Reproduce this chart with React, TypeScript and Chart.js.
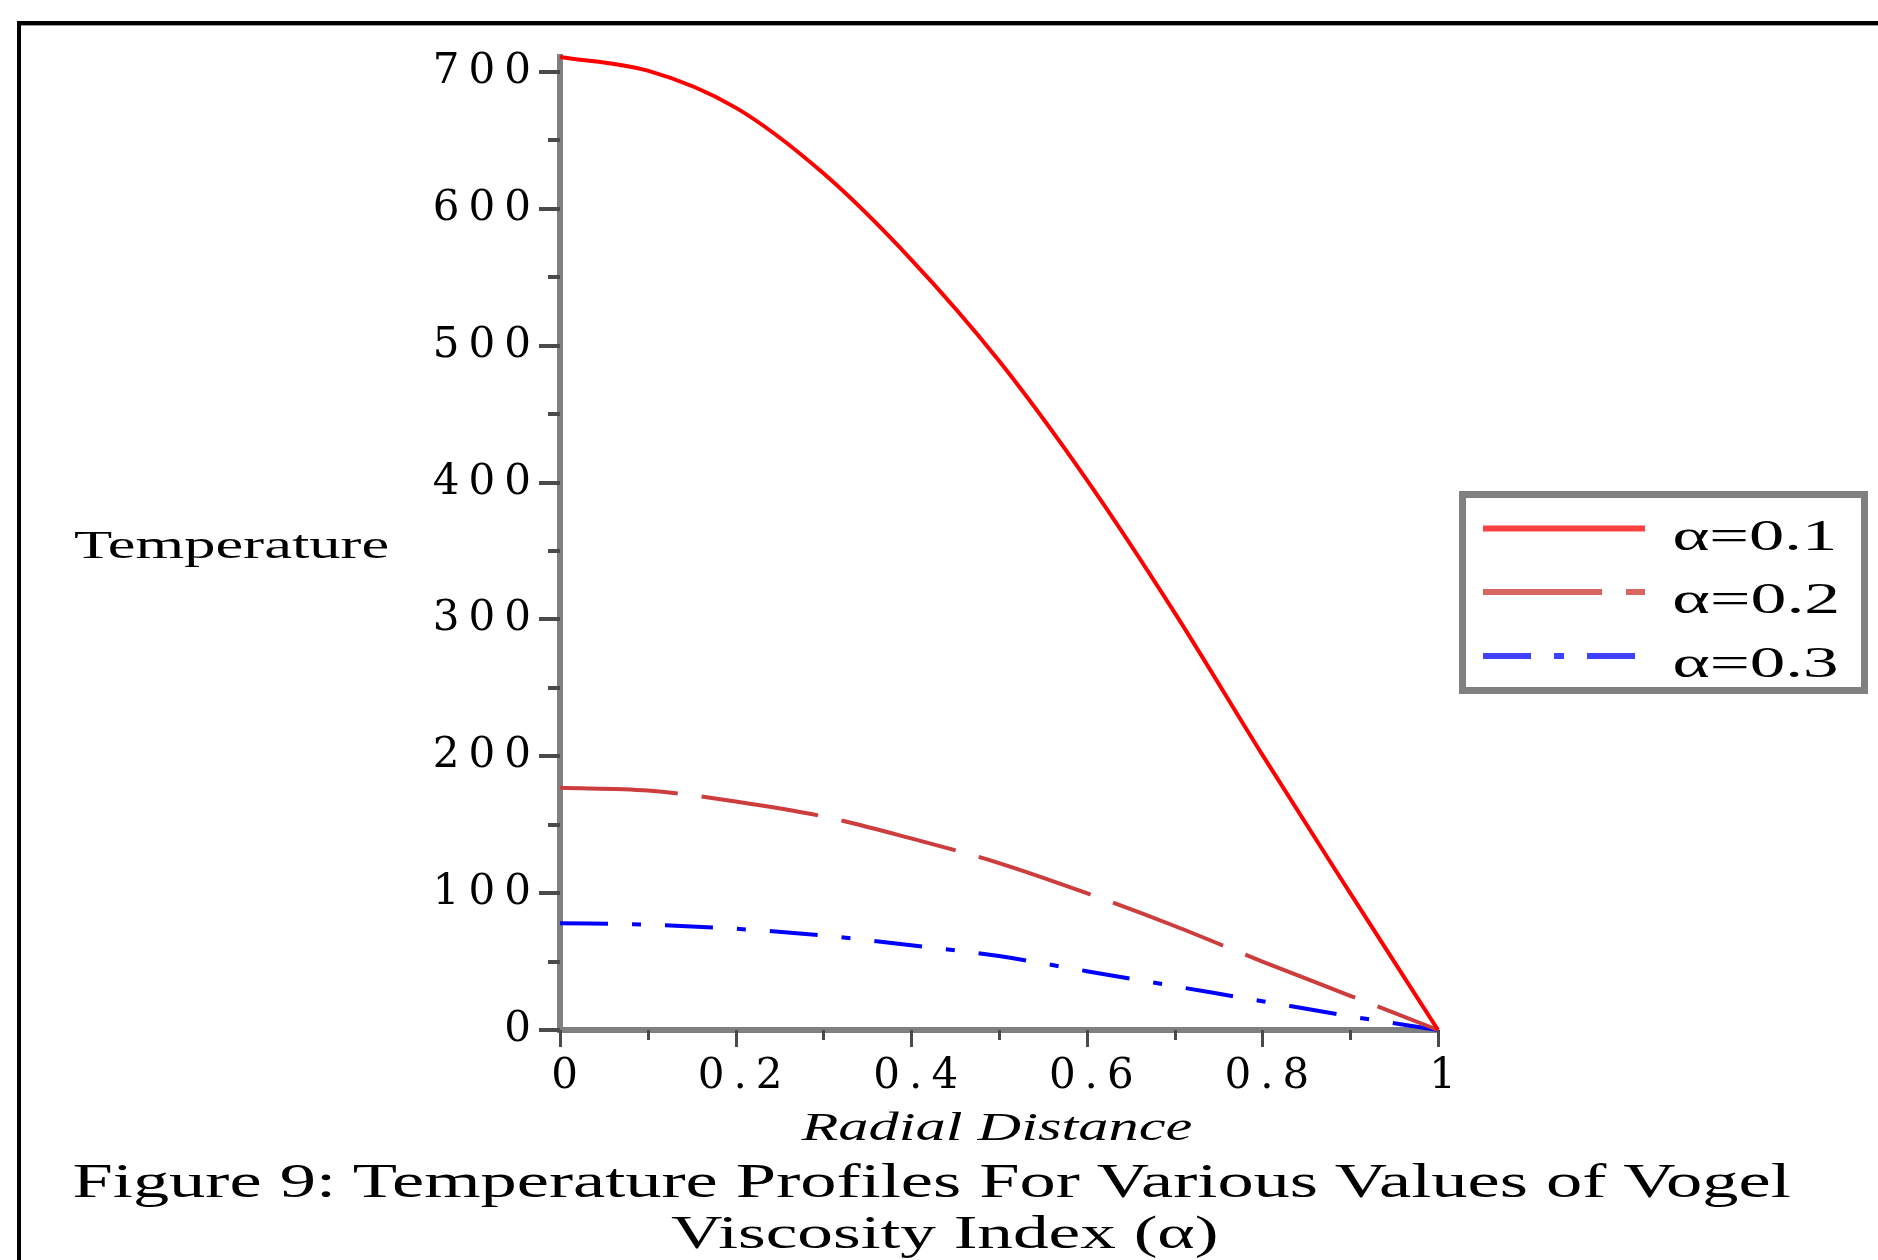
import React, { useEffect, useRef } from 'react';
import { Chart, registerables } from 'chart.js';

Chart.register(...registerables);

// ---------------- data ----------------
const radialDistance = [0, 0.1, 0.2, 0.3, 0.4, 0.5, 0.6, 0.7, 0.8, 0.9, 1];
const tempAlpha01 = [711, 701, 674, 626, 563, 489, 402, 305, 201, 100, 0];
const tempAlpha02 = [177, 175, 167, 156, 140, 122, 100, 76, 50, 25, 0];
const tempAlpha03 = [78, 77, 74, 69, 62, 54, 43, 32, 21, 10, 0];
const seriesLabels = ['α=0.1', 'α=0.2', 'α=0.3'];

const yTickLabels = [0, 100, 200, 300, 400, 500, 600, 700];
const yTickMarks = [0, 50, 100, 150, 200, 250, 300, 350, 400, 450, 500, 550, 600, 650, 700];
const xTickLabels = [0, 0.2, 0.4, 0.6, 0.8, 1];
const xTickMarks = [0, 0.1, 0.2, 0.3, 0.4, 0.5, 0.6, 0.7, 0.8, 0.9, 1];
const yMax = 711;

const axisTitleY = 'Temperature';
const axisTitleX = 'Radial Distance';
const captionLine1 = 'Figure 9: Temperature Profiles For Various Values of Vogel';
const captionLine2 = 'Viscosity Index (α)';

// ---------------- helpers ----------------
let measureCtx: CanvasRenderingContext2D | null = null;
function measureInk(text: string, font: string) {
  if (!measureCtx) measureCtx = document.createElement('canvas').getContext('2d');
  const c = measureCtx as CanvasRenderingContext2D;
  c.font = font;
  const m = c.measureText(text);
  return { left: m.actualBoundingBoxLeft, right: m.actualBoundingBoxRight };
}

function StretchText(props: {
  text: string; size: number; italic?: boolean; inkLeft: number; inkWidth: number; baseline: number;
}) {
  const { text, size, italic, inkLeft, inkWidth, baseline } = props;
  const font = `${italic ? 'italic ' : ''}${size}px "Liberation Serif"`;
  const m = measureInk(text, font);
  const natural = Math.max(1, m.left + m.right);
  const s = inkWidth / natural;
  const x0 = inkLeft + m.left * s;
  return (
    <text
      transform={`translate(${x0} ${baseline}) scale(${s} 1)`}
      fontFamily="'Liberation Serif'"
      fontSize={size}
      fontStyle={italic ? 'italic' : 'normal'}
      fill="#000"
    >
      {text}
    </text>
  );
}

const mapleTicks = {
  id: 'mapleTicks',
  beforeDraw(chart: any) {
    (chart.ctx as any).letterSpacing = '9px';
  },
  afterDraw(chart: any) {
    const ctx = chart.ctx;
    (ctx as any).letterSpacing = '0px';
    const area = chart.chartArea;
    const xs = chart.scales.x;
    const ys = chart.scales.y;
    ctx.save();
    ctx.strokeStyle = '#4a4a4a';
    ctx.lineWidth = 4;
    yTickMarks.forEach((v) => {
      const p = Math.round(ys.getPixelForValue(v));
      const major = v % 100 === 0;
      ctx.beginPath();
      ctx.moveTo(area.left - (major ? 21 : 12), p);
      ctx.lineTo(area.left, p);
      ctx.stroke();
    });
    ctx.lineWidth = 3;
    xTickMarks.forEach((v, i) => {
      const p = Math.round(xs.getPixelForValue(v)) + 0.5;
      const major = i % 2 === 0;
      ctx.beginPath();
      ctx.moveTo(p, area.bottom);
      ctx.lineTo(p, area.bottom + (major ? 17 : 10));
      ctx.stroke();
    });
    ctx.restore();
  },
};

const tickFont = { family: "'DejaVu Serif'", size: 42, lineHeight: 1.2 };

export default function App() {
  const canvasRef = useRef<HTMLCanvasElement | null>(null);

  useEffect(() => {
    if (!canvasRef.current) return;
    const toPts = (arr: number[]) => arr.map((y, i) => ({ x: radialDistance[i], y }));
    const common = { borderWidth: 4, pointRadius: 0, cubicInterpolationMode: 'monotone', clip: 10 };
    const chart = new Chart(canvasRef.current, {
      type: 'line',
      data: {
        datasets: [
          { ...common, label: seriesLabels[0], data: toPts(tempAlpha01), borderColor: '#ff0000' },
          { ...common, label: seriesLabels[1], data: toPts(tempAlpha02), borderColor: '#cd3d3d', borderDash: [118, 24] },
          { ...common, label: seriesLabels[2], data: toPts(tempAlpha03), borderColor: '#0000ff', borderDash: [48, 24, 9, 24] },
        ],
      } as any,
      options: {
        animation: false,
        responsive: false,
        maintainAspectRatio: false,
        layout: { padding: { left: 0, top: 57, right: 440, bottom: 0 } },
        plugins: { legend: { display: false }, tooltip: { enabled: false }, title: { display: false } },
        scales: {
          x: {
            type: 'linear',
            min: 0,
            max: 1,
            afterBuildTicks: (s: any) => {
              s.ticks = xTickLabels.map((v) => ({ value: v }));
            },
            afterFit: (s: any) => {
              s.height = 230;
            },
            grid: { drawOnChartArea: false, drawTicks: false, color: 'rgba(0,0,0,0)' },
            border: { display: true, color: '#808080', width: 6 },
            ticks: {
              callback: (v: any) => String(v),
              font: tickFont,
              color: '#000',
              padding: 22,
              labelOffset: 9,
              maxRotation: 0,
              autoSkip: false,
            },
          },
          y: {
            type: 'linear',
            min: 0,
            max: yMax,
            afterBuildTicks: (s: any) => {
              s.ticks = yTickLabels.map((v) => ({ value: v }));
            },
            afterFit: (s: any) => {
              s.width = 560;
            },
            grid: { drawOnChartArea: false, drawTicks: false, color: 'rgba(0,0,0,0)' },
            border: { display: true, color: '#808080', width: 6 },
            ticks: {
              callback: (v: any) => String(v),
              font: tickFont,
              color: '#000',
              padding: 20,
              autoSkip: false,
            },
          },
        },
      } as any,
      plugins: [mapleTicks as any],
    });
    return () => chart.destroy();
  }, []);

  return (
    <div style={{ position: 'absolute', left: 0, top: 0, width: 1878, height: 1260, overflow: 'hidden', background: '#fff' }}>
      <canvas ref={canvasRef} width={1878} height={1260} style={{ position: 'absolute', left: 0, top: 0, width: 1878, height: 1260 }} />
      <svg width={1878} height={1260} style={{ position: 'absolute', left: 0, top: 0, pointerEvents: 'none' }}>
        {/* figure frame */}
        <rect x={17} y={21} width={1861} height={4} fill="#000" />
        <rect x={17} y={25} width={1861} height={1} fill="#9a9a9a" />
        <rect x={17} y={21} width={4} height={1239} fill="#000" />

        <StretchText text={axisTitleY} size={40} inkLeft={74} inkWidth={314} baseline={558} />
        <StretchText text={axisTitleX} size={41} italic inkLeft={800} inkWidth={392} baseline={1140} />
        <StretchText text={captionLine1} size={48} inkLeft={74} inkWidth={1722} baseline={1197} />
        <StretchText text={captionLine2} size={47} inkLeft={671} inkWidth={545} baseline={1248} />

        {/* legend */}
        <rect x={1462.5} y={494.5} width={402} height={196} fill="#fff" stroke="#808080" strokeWidth={7} />
        <line x1={1483} y1={528.5} x2={1645} y2={528.5} stroke="#ff4040" strokeWidth={6} />
        <line x1={1483} y1={592} x2={1645} y2={592} stroke="#d96464" strokeWidth={6} strokeDasharray="119 24" />
        <line x1={1483} y1={656} x2={1635} y2={656} stroke="#4040ff" strokeWidth={6} strokeDasharray="48 23 10 23" />
        <StretchText text={seriesLabels[0]} size={44} inkLeft={1674} inkWidth={160} baseline={550} />
        <StretchText text={seriesLabels[1]} size={44} inkLeft={1674} inkWidth={163} baseline={613} />
        <StretchText text={seriesLabels[2]} size={44} inkLeft={1674} inkWidth={163} baseline={677} />
      </svg>
    </div>
  );
}
